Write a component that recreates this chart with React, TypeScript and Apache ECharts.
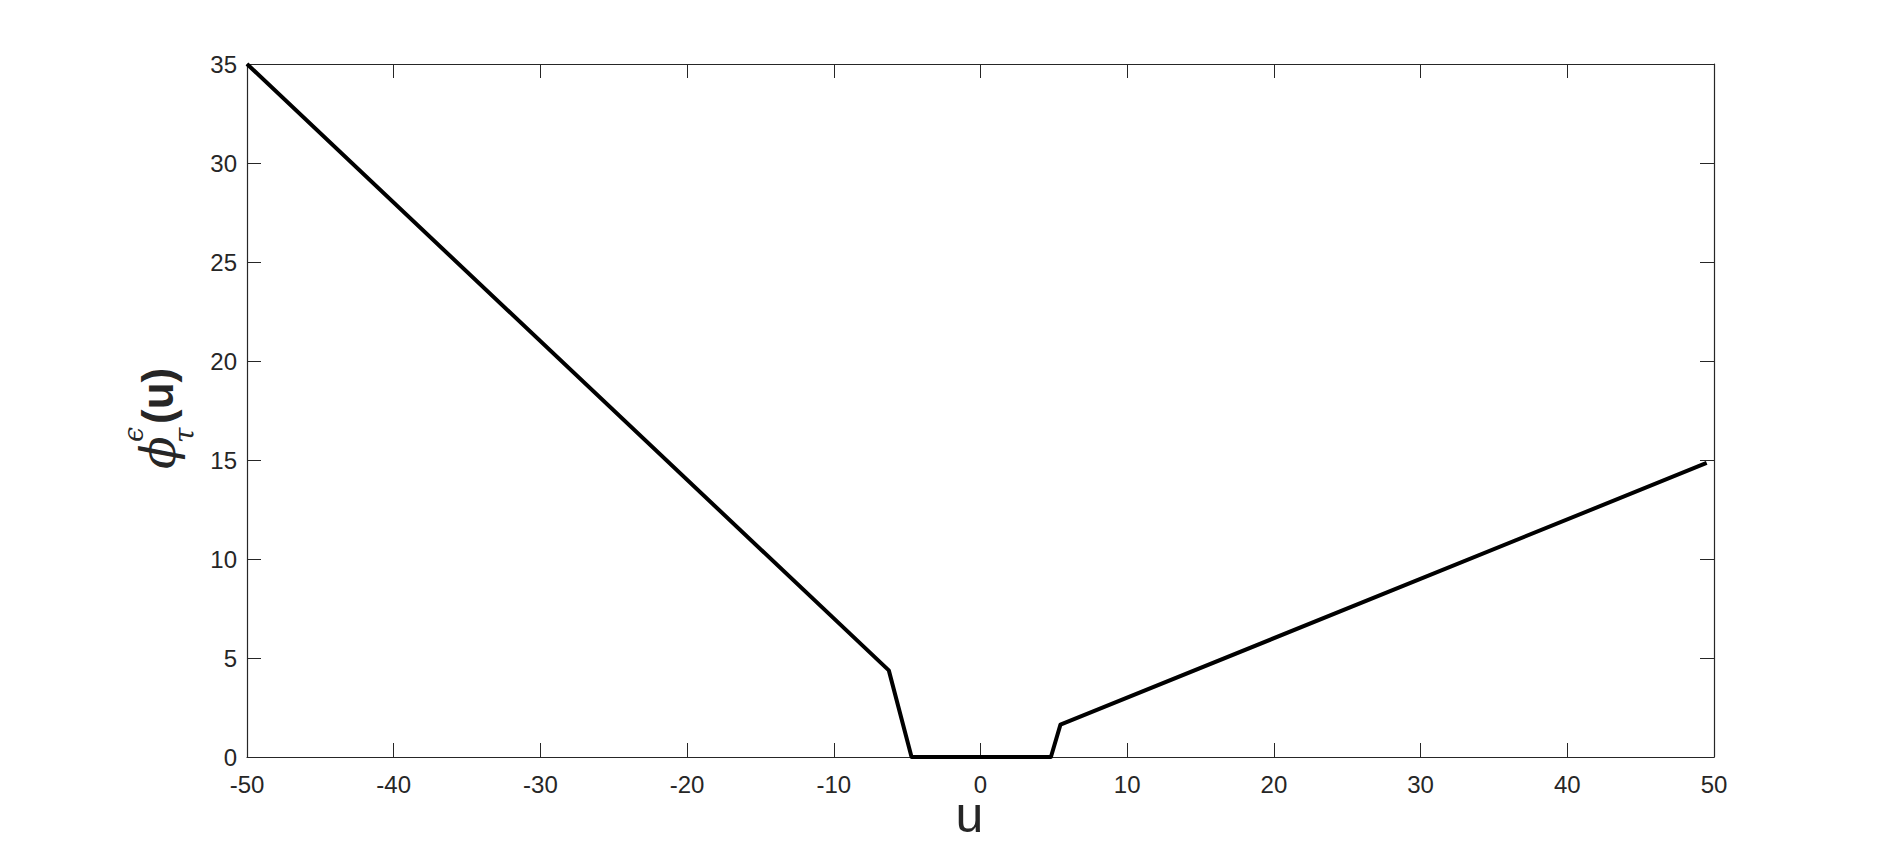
import React, { useEffect, useRef } from "react";
import * as echarts from "echarts";

const uValues = [-50, -6.25, -4.7, 4.8, 5.45, 49.5];
const phiValues = [35, 4.375, 0, 0, 1.635, 14.85];
const xTicks = { min: -50, max: 50, interval: 10 };
const yTicks = { min: 0, max: 35, interval: 5 };
const xLabel = "u";

const AXIS_COLOR = "#262626";
const FONT = "'Liberation Sans', Arial, Helvetica, sans-serif";

export default function App() {
  const ref = useRef<HTMLDivElement>(null);
  useEffect(() => {
    if (!ref.current) return;
    const chart = echarts.init(ref.current, null, { renderer: "svg" });
    const data = uValues.map((u, i) => [u, phiValues[i]]);
    const commonAxis = {
      axisLine: { show: true, onZero: false, lineStyle: { color: AXIS_COLOR, width: 1.2 } },
      axisTick: { show: true, inside: true, length: 14, lineStyle: { color: AXIS_COLOR, width: 1 } },
      splitLine: { show: false },
    };
    chart.setOption({
      animation: false,
      backgroundColor: "#ffffff",
      grid: {
        left: 247,
        right: 181,
        top: 64,
        bottom: 95,
        containLabel: false,
        outerBoundsMode: "none",
      },
      xAxis: [
        {
          type: "value",
          min: xTicks.min,
          max: xTicks.max,
          interval: xTicks.interval,
          position: "bottom",
          ...commonAxis,
          axisLabel: { color: AXIS_COLOR, fontSize: 24, lineHeight: 24, fontFamily: FONT, margin: 15 },
          name: xLabel,
          nameLocation: "middle",
          nameGap: 43,
          nameMoveOverlap: false,
          nameTextStyle: {
            color: AXIS_COLOR,
            fontSize: 50,
            lineHeight: 30,
            fontFamily: FONT,
            padding: [0, 22, 0, 0],
          },
        },
        {
          type: "value",
          min: xTicks.min,
          max: xTicks.max,
          interval: xTicks.interval,
          position: "top",
          ...commonAxis,
          axisLabel: { show: false },
        },
      ],
      yAxis: [
        {
          type: "value",
          min: yTicks.min,
          max: yTicks.max,
          interval: yTicks.interval,
          position: "left",
          ...commonAxis,
          axisLabel: { color: AXIS_COLOR, fontSize: 24, fontFamily: FONT, margin: 10 },
        },
        {
          type: "value",
          min: yTicks.min,
          max: yTicks.max,
          interval: yTicks.interval,
          position: "right",
          ...commonAxis,
          axisLabel: { show: false },
        },
      ],
      series: [
        {
          type: "line",
          data,
          xAxisIndex: 0,
          yAxisIndex: 0,
          showSymbol: false,
          symbol: "none",
          lineStyle: { color: "#000000", width: 4, join: "round" },
          clip: false,
        },
      ],
      graphic: [
        {
          type: "group",
          x: 158,
          y: 469,
          rotation: Math.PI / 2,
          children: [
            {
              type: "text",
              x: 0,
              y: 0,
              style: {
                text: "\u03d5",
                font: "italic 48px 'DejaVu Serif', 'Liberation Serif', serif",
                fill: AXIS_COLOR,
                textAlign: "left",
                verticalAlign: "middle",
              },
            },
            {
              type: "text",
              x: 27,
              y: -25,
              style: {
                text: "\u03f5",
                font: "italic 27px 'DejaVu Serif', 'Liberation Serif', serif",
                fill: AXIS_COLOR,
                textAlign: "left",
                verticalAlign: "middle",
              },
            },
            {
              type: "text",
              x: 26,
              y: 26,
              style: {
                text: "\u03c4",
                font: "italic 28px 'DejaVu Serif', 'Liberation Serif', serif",
                fill: AXIS_COLOR,
                textAlign: "left",
                verticalAlign: "middle",
              },
            },
            {
              type: "text",
              x: 45,
              y: -1,
              style: {
                text: "(u)",
                font: "bold 44px 'Liberation Sans', Arial, sans-serif",
                fill: AXIS_COLOR,
                textAlign: "left",
                verticalAlign: "middle",
              },
            },
          ],
        },
      ],
    });
    return () => chart.dispose();
  }, []);
  return (
    <div
      ref={ref}
      style={{ position: "fixed", left: 0, top: 0, width: 1895, height: 852, background: "#fff" }}
    />
  );
}
